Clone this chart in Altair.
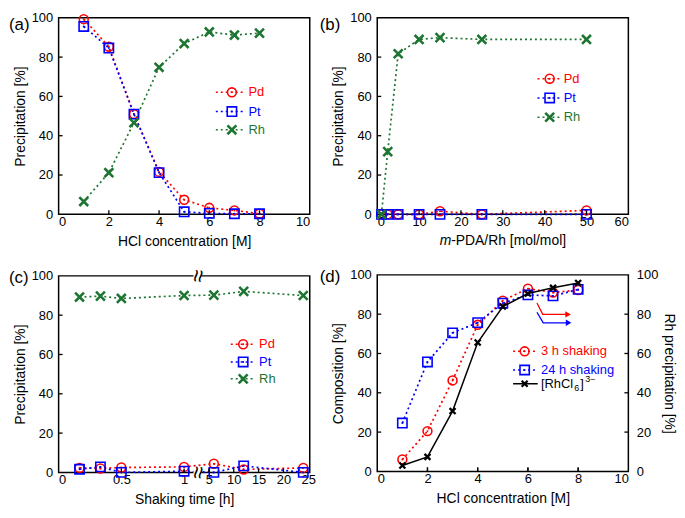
import altair as alt
import pandas as pd

# ---------------- data ----------------
a_hcl = [1, 2, 3, 4, 5, 6, 7, 8]
a_pd = [99.3, 85.3, 51.0, 21.6, 7.4, 3.3, 2.0, 0.3]
a_pt = [95.6, 84.6, 51.0, 21.2, 1.3, 0.5, 0.3, 0.3]
a_rh = [6.5, 21.2, 46.6, 74.8, 86.9, 92.8, 91.2, 92.2]

b_ratio = [1, 2.5, 5, 10, 15, 25, 50]
b_pd = [0.0, 0.0, 0.0, 0.0, 1.6, 0.0, 2.0]
b_pt = [0.0, 0.0, 0.0, 0.0, 0.0, 0.0, 0.0]
b_rh = [0.0, 31.9, 81.7, 89.0, 89.9, 89.0, 89.0]

c_time = [1 / 6, 1 / 3, 0.5, 1, 6, 12, 24]
c_pd = [2.3, 2.0, 2.5, 2.8, 4.4, 1.5, 2.3]
c_pt = [1.6, 2.8, 0.0, 0.6, 0.0, 3.3, 0.0]
c_rh = [89.2, 89.7, 88.5, 90.0, 90.2, 92.1, 90.0]

d_hcl = [1, 2, 3, 4, 5, 6, 7, 8]
d_3h = [6.1, 20.5, 46.3, 74.6, 86.9, 93.0, 91.0, 92.3]
d_24h = [24.6, 55.7, 70.5, 75.7, 85.6, 89.8, 89.3, 92.6]
d_rhcl6 = [3.0, 7.4, 30.7, 65.6, 83.9, 90.5, 93.4, 95.9]

# arrows in (d) pointing at the right-hand axis
arrow_red_x = [6.36, 6.59, 7.6]
arrow_red_y = [85.7, 79.9, 79.9]
arrow_blue_x = [6.36, 6.61, 7.62]
arrow_blue_y = [81.0, 75.6, 75.6]

# tick values / labels
y_ticks = [0, 20, 40, 60, 80, 100]
y_inner = [20, 40, 60, 80]
a_xticks = [0, 2, 4, 6, 8, 10]
a_inner = [2, 4, 6, 8]
b_xticks = [0, 10, 20, 30, 40, 50, 60]
b_inner = [10, 20, 30, 40, 50]
c_xticks = [0, 0.5, 1, 5, 10, 15, 20, 25]
c_inner = [0.5, 1, 5, 10, 15, 20]
c_break = [2.14, 3.5]      # gap of the broken time axis (h)
c_break_mid = [2.75]
d_xticks = [0, 2, 4, 6, 8, 10]
d_inner = [2, 4, 6, 8]

# ---------------- style ----------------
W, H = 253, 198
FONT = "Liberation Sans"
RED, BLUE, GREEN, BLACK = "#ff0000", "#0000ff", "#1e7532", "#000000"
X_PATH = "M-1,-1L1,1M-1,1L1,-1"
DOT = [2, 3]
LABEL_EXPR = "'' + datum.value"

ys = alt.Scale(domain=[0, 100], nice=False, zero=False)


def yaxis(title, orient="left"):
    return alt.Axis(values=y_ticks, title=title, orient=orient, labelExpr=LABEL_EXPR,
                    ticks=False, tickSize=0, domain=False, grid=False,
                    labelPadding=6 if orient == "left" else 8, titlePadding=4,
                    labelOverlap=False)


def xaxis(vals, title):
    kw = dict(values=vals, labelExpr=LABEL_EXPR, ticks=False, tickSize=0, domain=False,
              grid=False, labelPadding=1, titlePadding=6, labelOverlap=False)
    if title is None:
        return alt.Axis(title=None, **kw)
    return alt.Axis(title=title, **kw)


def encoders(xs, xa, ya):
    def X(f):
        return alt.X(f"{f}:Q", scale=xs, axis=xa)

    def Y(f):
        return alt.Y(f"{f}:Q", scale=ys, axis=ya)
    return X, Y


def markers(df, kind, color, X, Y, xf="x", yf="y"):
    enc = dict(x=X(xf), y=Y(yf))
    out = []
    if kind in ("circle", "square"):
        size = 80 if kind == "circle" else 88
        out.append(alt.Chart(df).mark_point(shape=kind, size=size, filled=False, strokeWidth=1.6,
                                            color=color, opacity=1).encode(**enc))
        out.append(alt.Chart(df).mark_point(shape="circle", size=4, filled=True,
                                            color=color, opacity=1).encode(**enc))
    elif kind == "x":
        out.append(alt.Chart(df).mark_point(shape=X_PATH, size=80, filled=False, strokeWidth=2.6,
                                            color=color, opacity=1).encode(**enc))
    else:  # small black cross
        out.append(alt.Chart(df).mark_point(shape=X_PATH, size=36, filled=False, strokeWidth=2.3,
                                            color=color, opacity=1).encode(**enc))
    return out


def series(x, y, color, kind, X, Y, solid=False):
    df = pd.DataFrame({"x": x, "y": y})
    kw = dict(color=color, strokeWidth=1.5 if solid else 1.7)
    if not solid:
        kw["strokeDash"] = DOT
    line = alt.Chart(df).mark_line(**kw).encode(x=X("x"), y=Y("y"))
    return [line], markers(df, kind, color, X, Y)


def legend(rows, xpos, X, Y):
    x0, x1, xm, xt = xpos
    out = []
    for label, yv, color, kind, solid in rows:
        df = pd.DataFrame({"x0": [x0], "x1": [x1], "xm": [xm], "xt": [xt], "y": [yv], "t": [label]})
        kw = dict(color=color, strokeWidth=1.5)
        if not solid:
            kw["strokeDash"] = DOT
        out.append(alt.Chart(df).mark_rule(**kw).encode(x=X("x0"), x2="x1:Q", y=Y("y")))
        out += markers(df, kind, color, X, Y, "xm", "y")
        if label == "RhCl6":
            parts = [("[RhCl", 0, 0, 13), ("6", 33.5, 4, 9), ("]", 39.5, 0, 13), ("3\u2212", 44.5, -5, 9)]
            for txt, dx, dy, fs in parts:
                d2 = df.assign(t=txt)
                out.append(alt.Chart(d2).mark_text(align="left", baseline="middle", fontSize=fs, font=FONT,
                                                   color=color, dx=dx + 1, dy=dy)
                           .encode(text="t:N", x=X("xt"), y=Y("y")))
        else:
            out.append(alt.Chart(df).mark_text(align="left", baseline="middle", fontSize=13, font=FONT,
                                               color=color, dx=1)
                       .encode(text="t:N", x=X("xt"), y=Y("y")))
    return out


def inner_ticks(X, Y, xvals, right=False):
    out = [alt.Chart(pd.DataFrame({"v": xvals})).mark_rule(color=BLACK, strokeWidth=1.3)
           .encode(x=X("v"), y=alt.value(H), y2=alt.value(H - 4))]
    if right:
        out.append(alt.Chart(pd.DataFrame({"v": y_inner})).mark_rule(color=BLACK, strokeWidth=1.3)
                   .encode(y=Y("v"), x=alt.value(W - 4), x2=alt.value(W)))
    else:
        out.append(alt.Chart(pd.DataFrame({"v": y_inner})).mark_rule(color=BLACK, strokeWidth=1.3)
                   .encode(y=Y("v"), x=alt.value(0), x2=alt.value(4)))
    return out


def plabel(txt, dx, dy):
    return alt.Chart(pd.DataFrame({"t": [txt]})).mark_text(
        align="left", baseline="middle", fontSize=17, font=FONT, color=BLACK
    ).encode(text="t:N", x=alt.value(dx), y=alt.value(dy))


def metal_rows(ys_):
    return [("Pd", ys_[0], RED, "circle", False),
            ("Pt", ys_[1], BLUE, "square", False),
            ("Rh", ys_[2], GREEN, "x", False)]


# ---------------- panel (a) ----------------
Xa, Ya = encoders(alt.Scale(domain=[0, 10], nice=False), xaxis(a_xticks, "HCl concentration [M]"),
                  yaxis("Precipitation [%]"))
la, ma = [], []
for yv, col, k in [(a_pd, RED, "circle"), (a_pt, BLUE, "square"), (a_rh, GREEN, "x")]:
    l, m = series(a_hcl, yv, col, k, Xa, Ya)
    la += l
    ma += m
pa = alt.layer(*la, *ma, *inner_ticks(Xa, Ya, a_inner),
               *legend(metal_rows([62.1, 52.3, 43.0]), (6.26, 7.39, 6.9, 7.52), Xa, Ya),
               plabel("(a)", -50, 7)).properties(width=W, height=H)

# ---------------- panel (b) ----------------
Xb, Yb = encoders(alt.Scale(domain=[0, 60], nice=False), xaxis(b_xticks, None),
                  yaxis("Precipitation [%]"))
lb, mb = [], []
for yv, col, k in [(b_pd, RED, "circle"), (b_pt, BLUE, "square"), (b_rh, GREEN, "x")]:
    l, m = series(b_ratio, yv, col, k, Xb, Yb)
    lb += l
    mb += m
split = W / 2 - 52
btitle = [
    alt.Chart(pd.DataFrame({"t": ["m"]})).mark_text(align="right", baseline="top", fontSize=14, font=FONT,
                                                     fontStyle="italic", color=BLACK)
    .encode(text="t:N", x=alt.value(split), y=alt.value(H + 20)),
    alt.Chart(pd.DataFrame({"t": ["-PDA/Rh [mol/mol]"]})).mark_text(align="left", baseline="top", fontSize=14,
                                                                     font=FONT, color=BLACK)
    .encode(text="t:N", x=alt.value(split), y=alt.value(H + 20)),
]
pb = alt.layer(*lb, *mb, *inner_ticks(Xb, Yb, b_inner),
               *legend(metal_rows([69.0, 59.2, 49.4]), (38.3, 43.7, 41.2, 44.3), Xb, Yb),
               *btitle, plabel("(b)", -58, 7)).properties(width=W, height=H)

# ---------------- panel (c) ----------------
xc_scale = alt.Scale(domain=[0, 1, 2.5, 25.3], range=[0, 0.4996 * W, 0.549 * W, W], nice=False)
Xc, Yc = encoders(xc_scale, xaxis(c_xticks, "Shaking time [h]"), yaxis("Precipitation [%]"))
lc, mc = [], []
for yv, col, k in [(c_pd, RED, "circle"), (c_pt, BLUE, "square"), (c_rh, GREEN, "x")]:
    l, m = series(c_time, yv, col, k, Xc, Yc)
    lc += l
    mc += m
brk = pd.DataFrame({"b0": [c_break[0]] * 2, "b1": [c_break[1]] * 2, "y0": [98.6, -1.4], "y1": [101.4, 1.4]})
brk_mid = pd.DataFrame({"x": c_break_mid * 2, "y": [100, 0], "t": ["\u2248", "\u2248"]})
cbreak = [
    alt.Chart(brk).mark_rect(color="white").encode(x=Xc("b0"), x2="b1:Q", y=Yc("y0"), y2="y1:Q"),
    alt.Chart(brk_mid).mark_text(fontSize=23, font=FONT, color=BLACK, angle=98, baseline="middle",
                                 align="center").encode(text="t:N", x=Xc("x"), y=Yc("y")),
]
pc = alt.layer(*lc, *cbreak, *mc, *inner_ticks(Xc, Yc, c_inner),
               *legend(metal_rows([65.2, 56.2, 47.6]), (9.4, 14.0, 11.9, 14.9), Xc, Yc),
               plabel("(c)", -50, 2)).properties(width=W, height=H)

# ---------------- panel (d) ----------------
xd_scale = alt.Scale(domain=[0, 10], nice=False)
xd_axis = xaxis(d_xticks, "HCl concentration [M]")
Xd, Yd = encoders(xd_scale, xd_axis, yaxis("Composition [%]"))
Xr, Yr = encoders(xd_scale, xd_axis, yaxis("Rh precipitation [%]", "right"))
l1, m1 = series(d_hcl, d_3h, RED, "circle", Xd, Yd)
l2, m2 = series(d_hcl, d_24h, BLUE, "square", Xd, Yd)
l3, m3 = series(d_hcl, d_rhcl6, BLACK, "xs", Xr, Yr, solid=True)
arrows = []
for ax_, ay_, col in [(arrow_red_x, arrow_red_y, RED), (arrow_blue_x, arrow_blue_y, BLUE)]:
    adf = pd.DataFrame({"x": ax_, "y": ay_, "o": list(range(len(ax_)))})
    arrows.append(alt.Chart(adf).mark_line(color=col, strokeWidth=1.3)
                  .encode(x=Xd("x"), y=Yd("y"), order="o:Q"))
    hdf = adf.tail(1)
    arrows.append(alt.Chart(hdf).mark_point(shape="triangle-right", size=42, filled=True, color=col,
                                            opacity=1).encode(x=Xd("x"), y=Yd("y")))
d_rows = [("3 h shaking", 61.1, RED, "circle", False),
          ("24 h shaking", 51.6, BLUE, "square", False),
          ("RhCl6", 44.6, BLACK, "xs", True)]
left_d = alt.layer(*l1, *l2, *m1, *m2, *arrows, *inner_ticks(Xd, Yd, d_inner),
                   *legend(d_rows, (5.41, 6.39, 5.87, 6.48), Xd, Yd), plabel("(d)", -58, 2))
right_d = alt.layer(*l3, *m3, *inner_ticks(Xr, Yr, d_inner, right=True))
pdd = alt.layer(left_d, right_d).resolve_scale(y="independent").properties(width=W, height=H)

chart = alt.hconcat(
    alt.vconcat(pa, pc, spacing=18),
    alt.vconcat(pb, pdd, spacing=18),
    spacing=2,
).properties(padding=0).configure(font=FONT).configure_view(
    stroke=BLACK, strokeWidth=1.5
).configure_axis(
    labelFont=FONT, titleFont=FONT, labelFontSize=13, titleFontSize=14,
    labelColor=BLACK, titleColor=BLACK, titleFontWeight="normal"
)

chart.save("out.html", embed_options={"renderer": "svg", "actions": False})
